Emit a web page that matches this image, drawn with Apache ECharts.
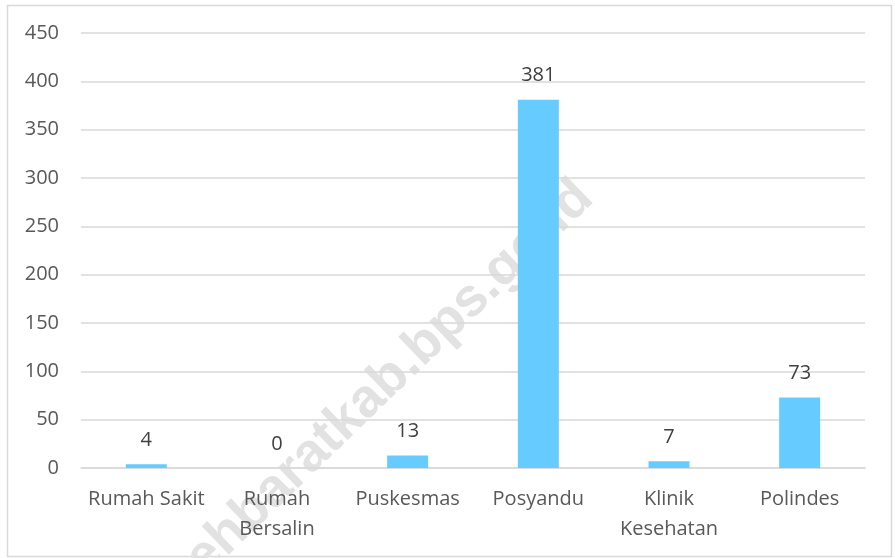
<!DOCTYPE html>
<html><head><meta charset="utf-8">
<script src="https://cdn.jsdelivr.net/npm/echarts@6/dist/echarts.min.js"></script>
<style>html,body{margin:0;padding:0;background:#fff}#c{width:895px;height:558px}</style>
</head><body><div id="c"></div>
<script>
const categories = ["Rumah Sakit", "Rumah\nBersalin", "Puskesmas", "Posyandu", "Klinik\nKesehatan", "Polindes"];
const values = [4, 0, 13, 381, 7, 73];
const yTicks = {min: 0, max: 450, interval: 50};

const chart = echarts.init(document.getElementById('c'));
const font = "Open Sans, sans-serif";
chart.setOption({
  animation: false,
  graphic: [
    {type: 'rect', left: 5, top: 3, shape: {width: 884, height: 551}, style: {fill: 'none', stroke: '#d9d9d9', lineWidth: 1.5}, z: -20},
    {type: 'text', x: 585, y: 190, rotation: Math.PI * 44 / 180, style: {text: 'acehbaratkab.bps.go.id', fill: '#e2e2e2', font: 'bold 54px Liberation Sans, Arial, sans-serif', textAlign: 'right', textVerticalAlign: 'middle'}, z: -10}
  ],
  grid: {left: 81, right: 30, top: 33, bottom: 90},
  xAxis: {
    type: 'category', data: categories,
    axisLine: {show: true, lineStyle: {color: '#d9d9d9', width: 1.5}},
    axisTick: {show: false},
    axisLabel: {color: '#595959', fontSize: 20, fontFamily: font, margin: 16, lineHeight: 30, interval: 0}
  },
  yAxis: {
    type: 'value', min: yTicks.min, max: yTicks.max, interval: yTicks.interval,
    axisLine: {show: false}, axisTick: {show: false},
    splitLine: {lineStyle: {color: '#d9d9d9', width: 1.5}},
    axisLabel: {color: '#595959', fontSize: 20, fontFamily: font, margin: 22}
  },
  series: [{
    type: 'bar', data: values, barWidth: 41,
    itemStyle: {color: '#66ccff'},
    label: {show: true, position: 'top', color: '#404040', fontSize: 20, fontFamily: font, distance: 14}
  }]
});
</script></body></html>
